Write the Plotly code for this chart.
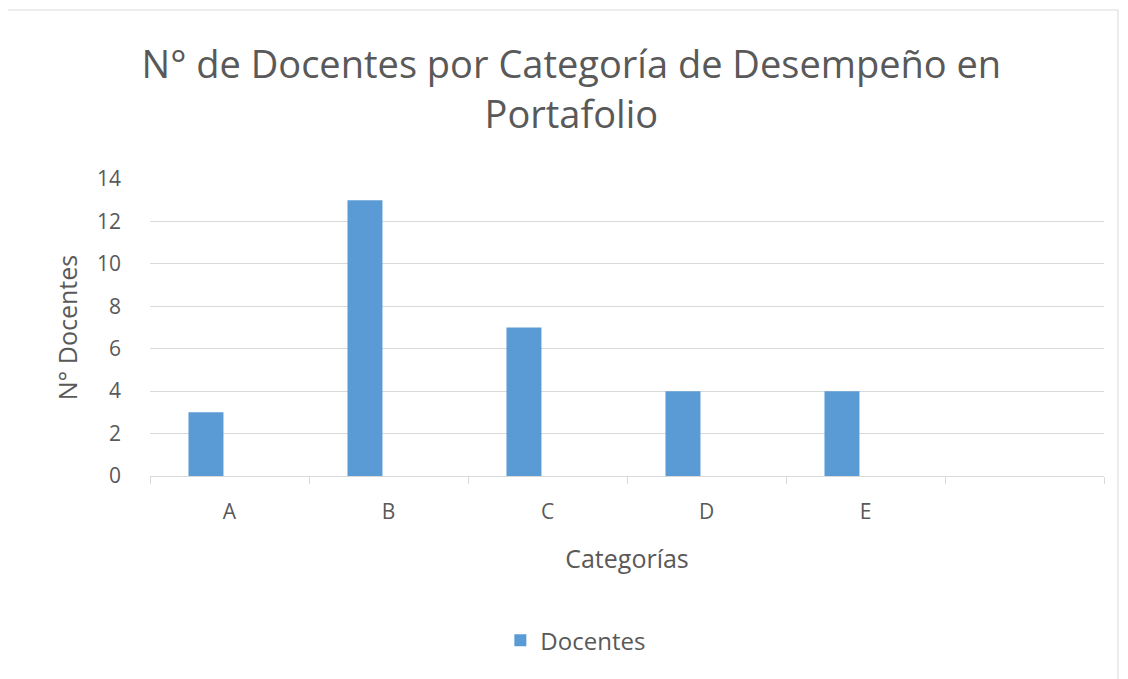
import plotly.graph_objects as go

categories = ["A", "B", "C", "D", "E", " "]
docentes = [3, 13, 7, 4, 4, None]
y_ticks = [0, 2, 4, 6, 8, 10, 12, 14]

BAR = "#5B9BD5"
GRID = "#D9D9D9"
TXT = "#595959"
FONT = "Open Sans"

fig = go.Figure()
fig.add_trace(go.Bar(
    x=categories, y=docentes, name="Docentes",
    marker=dict(color=BAR, line=dict(width=0)),
    width=0.22, offset=-0.258,
))

fig.update_layout(
    width=1120, height=671,
    margin=dict(l=142, r=24, t=171, b=203),
    paper_bgcolor="white", plot_bgcolor="white",
    title=dict(
        text="N° de Docentes por Categoría de Desempeño en<br>Portafolio",
        x=0.503, xanchor="center", y=0.895, yanchor="middle",
        font=dict(family=FONT, size=38, color=TXT),
    ),
    font=dict(family=FONT, color=TXT),
    showlegend=True,
    legend=dict(orientation="h", x=0.507, xanchor="center", xref="container",
                y=0.057, yanchor="middle", yref="container",
                font=dict(size=24, color=TXT), itemsizing="constant"),
    xaxis=dict(
        type="category", categoryorder="array", categoryarray=categories,
        range=[-0.5, 5.5], showgrid=False, showline=True, linecolor=GRID, linewidth=1,
        ticks="outside", tickson="boundaries", ticklen=7, tickcolor=GRID,
        tickfont=dict(size=21, color=TXT), ticklabelstandoff=17,
        title=dict(text="Categorías", font=dict(size=25, color=TXT), standoff=26),
        fixedrange=True,
    ),
    yaxis=dict(
        range=[0, 14], tickvals=y_ticks, showgrid=True, gridcolor=GRID, gridwidth=1,
        zeroline=False, showline=False, ticks="",
        tickfont=dict(size=21, color=TXT), ticklabelstandoff=28,
        title=dict(text="N° Docentes", font=dict(size=25, color=TXT), standoff=12),
    ),
    shapes=[dict(type="rect", xref="paper", yref="paper",
                 x0=(4 - 150) / 954, x1=(1118 - 150) / 954,
                 y0=(476 - 700) / 297, y1=(476 - 10) / 297,
                 line=dict(color="#D9D9D9", width=1), fillcolor="rgba(0,0,0,0)", layer="below")],
)

fig.write_html("out.html")
